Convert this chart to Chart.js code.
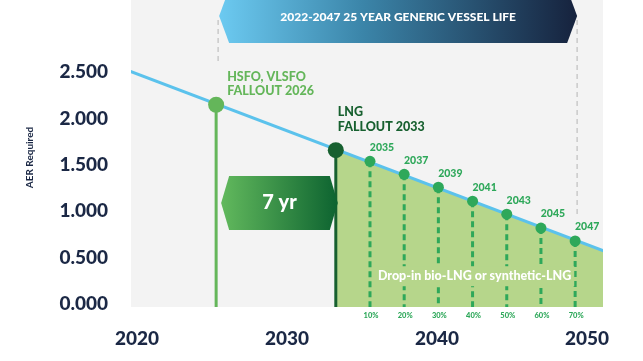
<!DOCTYPE html>
<html><head><meta charset="utf-8">
<script src="https://cdn.jsdelivr.net/npm/chart.js@4.4.0/dist/chart.umd.min.js"></script>
<style>html,body{margin:0;padding:0;background:#fff;overflow:hidden}canvas{display:block}</style>
</head><body><canvas id="c" width="643" height="361"></canvas>
<script>
// ---- data ----
const xTickLabels = [2020, 2030, 2040, 2050];
const yTickValues = [0, 0.5, 1, 1.5, 2, 2.5];
const aerYears = [2020, 2050];
const aerValues = [2.58, 0.48];
const fallYears = [2026, 2033];
const fallValues = [2.15, 1.66];
const fallLabels = [["HSFO, VLSFO", "FALLOUT 2026"], ["LNG", "FALLOUT 2033"]];
const mileYears = [2035, 2037, 2039, 2041, 2043, 2045, 2047];
const mileValues = [1.54, 1.40, 1.26, 1.11, 0.97, 0.82, 0.68];
const milePct = ["10%", "20%", "30%", "40%", "50%", "60%", "70%"];
const fillYears = [2033, 2050];
const fillValues = [1.67, 0.48];
const lifeSpan = [2026, 2047];
const guideEnds = [2.58, 0.97];
const gapValue = 1.09;
const bannerText = "2022-2047 25 YEAR GENERIC VESSEL LIFE";
const gapText = "7 yr";
const fillText = "Drop-in bio-LNG or synthetic-LNG";
const yTitle = "AER Required";

// ---- styles ----
const C = {
  navy: '#1b2845', blue: '#5bc2ec', bg: '#f3f3f3', fill: '#b6d68b',
  light: '#64b65a', dark: '#17602f', mile: '#2ea85a', guide: '#c9c9c9'
};
const FONT = 'Lato, "Open Sans", sans-serif';
const X_MIN = 2021.02, X_MAX = 2048.63, Y_MIN = -0.032, Y_MAX = 3.194;

const pts = (xs, ys) => xs.map((x, i) => ({x, y: ys[i]}));

const datasets = [];
datasets.push({ data: pts(fallYears, fallValues), showLine: false, pointRadius: 8, pointHoverRadius: 8,
  pointBackgroundColor: [C.light, C.dark], pointBorderWidth: 0, order: 0 });
datasets.push({ data: pts(mileYears, mileValues), showLine: false, pointRadius: 5.5, pointHoverRadius: 5.5,
  pointBackgroundColor: C.mile, pointBorderWidth: 0, order: 0 });
datasets.push({ data: pts(aerYears, aerValues), borderColor: C.blue, borderWidth: 3, pointRadius: 0, order: 1 });
fallYears.forEach((yr, i) => datasets.push({
  data: [{x: yr, y: fallValues[i]}, {x: yr, y: Y_MIN}], borderColor: i ? C.dark : C.light,
  borderWidth: 3, pointRadius: 0, order: 2 }));
mileYears.forEach((yr, i) => datasets.push({
  data: [{x: yr, y: mileValues[i]}, {x: yr, y: Y_MIN}], borderColor: C.mile, borderDash: [6, 4],
  borderWidth: 3, pointRadius: 0, order: 2 }));
datasets.push({ data: pts(fillYears, fillValues), fill: 'start', backgroundColor: C.fill,
  borderWidth: 0, pointRadius: 0, order: 3 });

function hexagon(ctx, x0, x1, cy, hh, ind) {
  ctx.beginPath();
  ctx.moveTo(x0, cy);
  ctx.lineTo(x0 + ind, cy - hh);
  ctx.lineTo(x1 - ind, cy - hh);
  ctx.lineTo(x1, cy);
  ctx.lineTo(x1 - ind, cy + hh);
  ctx.lineTo(x0 + ind, cy + hh);
  ctx.closePath();
}

const deco = {
  id: 'deco',
  beforeDatasetsDraw(chart) {
    const {ctx, chartArea: a, scales: {x, y}} = chart;
    ctx.save();
    ctx.fillStyle = C.bg;
    ctx.fillRect(a.left, 0, a.right - a.left, a.bottom);
    ctx.strokeStyle = C.guide; ctx.lineWidth = 1.5; ctx.setLineDash([5, 4]);
    lifeSpan.forEach((yr, i) => {
      const px = x.getPixelForValue(yr) + 2;
      ctx.beginPath(); ctx.moveTo(px, 20); ctx.lineTo(px, y.getPixelForValue(guideEnds[i])); ctx.stroke();
    });
    ctx.restore();
  },
  afterDatasetsDraw(chart) {
    const {ctx, chartArea: a, scales: {x, y}} = chart;
    ctx.save();
    // banner
    const bx0 = x.getPixelForValue(lifeSpan[0]) + 3, bx1 = x.getPixelForValue(lifeSpan[1]) + 2;
    let g = ctx.createLinearGradient(bx0, 0, bx1, 0);
    g.addColorStop(0, '#6ccaf1'); g.addColorStop(0.4, '#3b85a9'); g.addColorStop(1, '#16223d');
    ctx.fillStyle = g; hexagon(ctx, bx0, bx1, 16, 27, 10); ctx.fill();
    ctx.fillStyle = '#fff'; ctx.font = '900 12px ' + FONT; ctx.textAlign = 'center'; ctx.textBaseline = 'middle';
    ctx.fillText(bannerText, (bx0 + bx1) / 2, 17);
    // 7 yr box
    const gx0 = x.getPixelForValue(fallYears[0]) + 5, gx1 = x.getPixelForValue(fallYears[1]) + 2;
    const gy = y.getPixelForValue(gapValue);
    g = ctx.createLinearGradient(gx0, 0, gx1, 0);
    g.addColorStop(0, '#62b95d'); g.addColorStop(1, '#0d6330');
    ctx.fillStyle = g; hexagon(ctx, gx0, gx1, gy, 27, 8); ctx.fill();
    ctx.fillStyle = '#fff'; ctx.font = '900 20px ' + FONT;
    ctx.fillText(gapText, (gx0 + gx1) / 2, gy);
    // drop-in text with knockout
    ctx.font = '900 12.5px ' + FONT;
    const tx = x.getPixelForValue((mileYears[0] + mileYears[mileYears.length - 1]) / 2) + 2;
    const ty = y.getPixelForValue(0.30);
    const tw = ctx.measureText(fillText).width;
    ctx.fillStyle = C.fill; ctx.fillRect(tx - tw / 2 - 3, ty - 10, tw + 6, 20);
    ctx.fillStyle = '#fff'; ctx.fillText(fillText, tx, ty);
    // fallout labels
    ctx.textAlign = 'left'; ctx.font = '900 12.5px ' + FONT;
    fallYears.forEach((yr, i) => {
      ctx.fillStyle = i ? C.dark : C.light;
      const lx = x.getPixelForValue(yr) + (i ? 2 : 11);
      const ly = y.getPixelForValue(fallValues[i]) - (i ? 38 : 28);
      fallLabels[i].forEach((t, k) => ctx.fillText(t, lx, ly + k * 14.5));
    });
    // milestone labels
    ctx.textAlign = 'center'; ctx.font = '900 10.5px ' + FONT; ctx.fillStyle = C.mile;
    mileYears.forEach((yr, i) => {
      ctx.fillText(String(yr), x.getPixelForValue(yr) + 12, y.getPixelForValue(mileValues[i]) - 14);
    });
    // percentages
    ctx.font = '900 7.5px ' + FONT;
    mileYears.forEach((yr, i) => ctx.fillText(milePct[i], x.getPixelForValue(yr) + 1, a.bottom + 9));
    ctx.restore();
  }
};

new Chart(document.getElementById('c'), {
  type: 'line',
  data: { datasets },
  options: {
    responsive: false, animation: false, devicePixelRatio: 1,
    layout: { padding: { left: 0, right: 40, top: 0, bottom: 0 } },
    plugins: { legend: { display: false }, tooltip: { enabled: false } },
    scales: {
      x: { type: 'linear', min: X_MIN, max: X_MAX, display: false },
      x2: { type: 'linear', position: 'bottom', min: 2019.6, max: 2051.07,
        grid: { display: false, drawTicks: false }, border: { display: false },
        afterBuildTicks: s => { s.ticks = xTickLabels.map(v => ({value: v})); },
        afterFit: s => { s.height = 54; s.paddingLeft = 0; s.paddingRight = 0; s.paddingTop = 0; s.paddingBottom = 0; },
        ticks: { padding: 20, color: C.navy, font: { family: FONT, weight: '900', size: 19 },
          callback: v => String(v), maxRotation: 0, autoSkip: false } },
      y: { type: 'linear', min: Y_MIN, max: Y_MAX,
        grid: { display: false, drawTicks: false }, border: { display: false },
        afterBuildTicks: s => { s.ticks = yTickValues.map(v => ({value: v})); },
        afterFit: s => { s.width = 131; s.paddingTop = 0; s.paddingBottom = 0; s.paddingLeft = 0; s.paddingRight = 0; },
        title: { display: true, text: yTitle, color: C.navy, font: { family: FONT, weight: '700', size: 10 },
          padding: { top: 24, bottom: 0 } },
        ticks: { padding: 23, color: C.navy, font: { family: FONT, weight: '900', size: 19 },
          callback: v => v.toFixed(3) } }
    }
  },
  plugins: [deco]
});
</script></body></html>
